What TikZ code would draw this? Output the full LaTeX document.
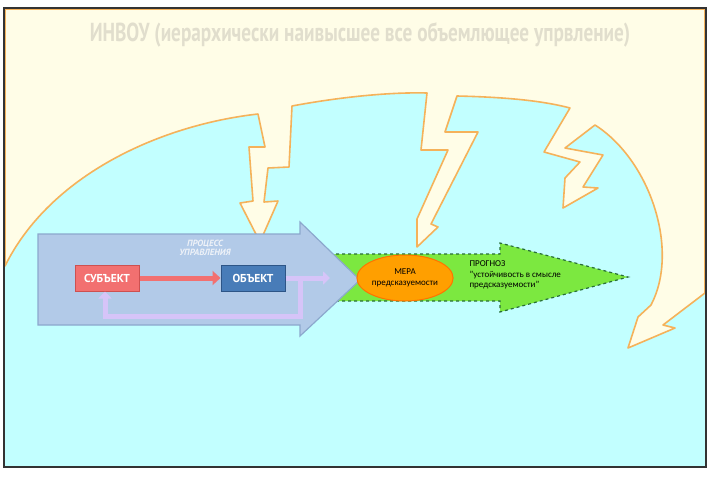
\documentclass[tikz,border=0pt]{standalone}
\usepackage{fontspec}
\setmainfont{Carlito}
\newfontfamily\titlefont{PT Sans}
\usetikzlibrary{shapes.geometric,arrows.meta}
\definecolor{cream}{RGB}{255,253,231}
\definecolor{sky}{RGB}{194,255,255}
\definecolor{bolt}{RGB}{245,178,90}
\definecolor{procfill}{RGB}{178,202,232}
\definecolor{procline}{RGB}{140,168,205}
\definecolor{progfill}{RGB}{124,232,64}
\definecolor{progline}{RGB}{40,110,55}
\definecolor{lilac}{RGB}{214,196,248}
\definecolor{subfill}{RGB}{242,112,112}
\definecolor{subline}{RGB}{205,80,80}
\definecolor{objfill}{RGB}{72,124,184}
\definecolor{objline}{RGB}{45,85,135}
\definecolor{redarrow}{RGB}{242,112,112}
\definecolor{titlegray}{RGB}{225,222,205}
\tikzset{
  box/.style 2 args={draw=#2, fill=#1, text=white, minimum width=64pt, minimum height=26pt, line width=1pt, font=\titlefont\bfseries\fontsize{11.5}{11.5}\selectfont},
  small/.style={font=\fontsize{9}{10.5}\selectfont, align=center}
}
\begin{document}
\begin{tikzpicture}[x=1pt,y=-1pt]
\useasboundingbox (0,0) rectangle (712,480);

% background and frame
\fill[white] (0,0) rectangle (712,480);
\fill[sky] (4,8) rectangle (706,467);

% upper region with lightning bolts
\draw[bolt, line width=1.6pt, fill=cream, line join=round]
  (5,9) -- (5,266) .. controls (50,175) and (160,125) .. (258,114)
  -- (265,147) -- (249,147) -- (253,201) -- (240,203) -- (260,242) -- (278,201) -- (264,202) -- (268,168) -- (289,167) -- (292,106)
  .. controls (340,97) and (390,92) .. (427,93)
  -- (421,150) -- (448,150) -- (417,219) -- (417,247) -- (438,227) -- (431,224) -- (478,132) -- (445,132) -- (457,96)
  .. controls (500,97) and (540,100) .. (570,108)
  -- (544,152) -- (580,162) -- (565,178) -- (563,208) -- (598,188) -- (583,187) -- (603,155) -- (565,148) -- (595,125)
  .. controls (650,160) and (680,250) .. (651,305)
  -- (638,317) -- (628,348) -- (675,328) -- (663,325) -- (705,293) -- (705,9) -- cycle;
\draw[black!80, line width=1.2pt] (4,8) rectangle (706,467);

% title
\node (title) [text=titlegray, font=\titlefont\bfseries\fontsize{26}{26}\selectfont, xscale=0.74] at (360,35) {ИНВОУ (иерархически наивысшее все объемлющее упрвление)};

% forecast arrow
\draw[progline, fill=progfill, dashed, line width=1.2pt]
  (330,254) -- (500,254) -- (500,243) -- (628,277) -- (500,312) -- (500,301) -- (330,301) -- cycle;

% control process arrow
\draw[procline, fill=procfill, line width=1.2pt]
  (38,234) -- (300,234) -- (300,222) -- (360,280) -- (300,336) -- (300,325) -- (38,325) -- cycle;
\node (proc) [text=white!85!procline, font=\titlefont\bfseries\itshape\fontsize{9}{9}\selectfont, align=center] at (205,248) {ПРОЦЕСС\\УПРАВЛЕНИЯ};

\node (sub) [box={subfill}{subline}] at (107,278) {СУБЪЕКТ};
\node (obj) [box={objfill}{objline}] at (253,278) {ОБЪЕКТ};
\coordinate (fbout) at (330,278);

% feedback loop
\draw[lilac, line width=5pt, -{Triangle[length=7pt,width=13pt]}] (obj.east) -- (fbout);
\draw[lilac, line width=5pt, -{Triangle[length=7pt,width=13pt]}] (300,278) -- (300,316) -- (105,316) -- ([xshift=-2pt]sub.south);
\draw[redarrow, line width=5pt, -{Triangle[length=8pt,width=14pt]}] (sub.east) -- (obj.west);

% measure and forecast
\node (mera) [ellipse, draw=orange!90!red, fill=orange!75!yellow, minimum width=86pt, minimum height=46pt, inner sep=1pt, line width=1pt, small] at (405,278) {МЕРА\\предсказуемости};
\node (prog) [small, align=left, anchor=west] at (466,275) {ПРОГНОЗ\\"устойчивость в смысле\\предсказуемости"};
\end{tikzpicture}
\end{document}
